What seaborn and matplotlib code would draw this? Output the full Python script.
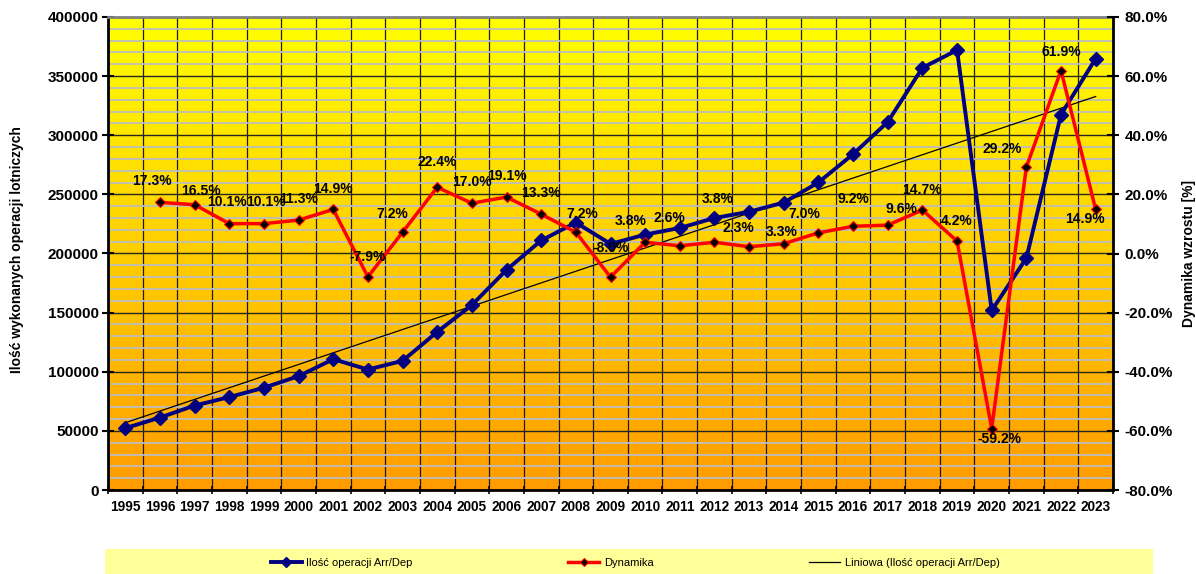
import numpy as np
import pandas as pd
import matplotlib
matplotlib.use("Agg")
import matplotlib.pyplot as plt
import seaborn as sns
from matplotlib.colors import LinearSegmentedColormap
from matplotlib.ticker import MultipleLocator, FuncFormatter
from matplotlib.patches import Rectangle

# ─── Data ─────────────────────────────────────────────────────────────────────
YEARS = [1995, 1996, 1997, 1998, 1999, 2000, 2001, 2002, 2003, 2004,
         2005, 2006, 2007, 2008, 2009, 2010, 2011, 2012, 2013, 2014,
         2015, 2016, 2017, 2018, 2019, 2020, 2021, 2022, 2023]

OPS = [52300, 61300, 71400, 78600, 86500, 96300, 110600, 101900, 109200, 133700,
       156400, 186200, 211000, 226200, 208100, 216000, 221600, 230000, 235300, 243100,
       260100, 284000, 311250, 357000, 372000, 151800, 196100, 317500, 364800]

# growth rate [%], from 1996 onwards
DYN = [17.3, 16.5, 10.1, 10.1, 11.3, 14.9, -7.9, 7.2, 22.4, 17.0,
       19.1, 13.3, 7.2, -8.0, 3.8, 2.6, 3.8, 2.3, 3.3, 7.0,
       9.2, 9.6, 14.7, 4.2, -59.2, 29.2, 61.9, 14.9]

LBL_OPS   = "Ilość operacji Arr/Dep"
LBL_DYN   = "Dynamika"
LBL_TREND = "Liniowa (Ilość operacji Arr/Dep)"

# data-label offsets (pixels) for the Dynamika labels, like Excel placed them
LABEL_OFFSETS = [(-8, 21), (6, 14), (-2, 22), (2, 22), (0, 21), (0, 20), (0, 20), (-10, 18),
                 (0, 25), (0, 21), (0, 21), (0, 21), (6, 18), (0, 29), (-15, 21), (-10, 28),
                 (3, 43), (-11, 19), (-2, 12), (-14, 19), (0, 27), (14, 16), (0, 20), (0, 20),
                 (8, -10), (-24, 18), (0, 19), (-11, -10)]

# ─── Style ────────────────────────────────────────────────────────────────────
plt.rcParams["font.family"] = ["Liberation Sans", "DejaVu Sans"]
plt.rcParams["font.weight"] = "bold"

W, H = 1196, 574
fig = plt.figure(figsize=(W / 100, H / 100), dpi=100)
ax = fig.add_axes([108 / W, 84 / H, 1005 / W, 473 / H])
ax2 = ax.twinx()

# gradient background
bg = LinearSegmentedColormap.from_list("bg", ["#FF9C00", "#FFFF00"])
ax.imshow(np.linspace(0, 1, 256).reshape(-1, 1), cmap=bg, aspect="auto",
          extent=[0, 1, 0, 1], transform=ax.transAxes, origin="lower", zorder=0)

ops_df = pd.DataFrame({"pos": np.arange(len(YEARS)), "ops": OPS})
dyn_df = pd.DataFrame({"pos": np.arange(1, len(YEARS)), "dyn": DYN})

sns.regplot(data=ops_df, x="pos", y="ops", ax=ax, scatter=False, ci=None, truncate=True,
            color="black", line_kws={"lw": 0.9, "zorder": 3})
sns.lineplot(data=ops_df, x="pos", y="ops", ax=ax, color="#000080", lw=2.8,
             marker="D", markersize=7, markeredgecolor="#000080", markeredgewidth=1, zorder=4)
sns.lineplot(data=dyn_df, x="pos", y="dyn", ax=ax2, color="#FF0000", lw=2.5,
             marker="D", markersize=5.5, markerfacecolor="black", markeredgecolor="#FF0000",
             markeredgewidth=0.8, zorder=4)

trend_line, ops_line = ax.lines[0], ax.lines[1]
dyn_line = ax2.lines[0]

for i, (v, (dx, dy)) in enumerate(zip(DYN, LABEL_OFFSETS)):
    ax2.annotate(f"{v:.1f}%", (i + 1, v), xytext=(dx, dy), textcoords="offset pixels",
                 ha="center", va="center", fontsize=10, fontweight="bold", zorder=6)

# ─── Axes ─────────────────────────────────────────────────────────────────────
ax.set_xlim(-0.5, len(YEARS) - 0.5)
ax.set_ylim(0, 400000)
ax2.set_ylim(-80, 80)

ax.set_xticks(np.arange(-0.5, len(YEARS), 1))
ax.set_xticklabels([])
ax.set_xticks(np.arange(len(YEARS)), minor=True)
ax.set_xticklabels([str(y) for y in YEARS], minor=True)
ax.tick_params(axis="x", which="major", direction="inout", length=6, width=1.2)
ax.tick_params(axis="x", which="minor", length=0, pad=7, labelsize=9.8)

ax.yaxis.set_major_locator(MultipleLocator(50000))
ax.yaxis.set_minor_locator(MultipleLocator(10000))
ax.yaxis.set_major_formatter(FuncFormatter(lambda v, _: f"{v:.0f}"))
ax.tick_params(axis="y", which="major", direction="inout", length=9, width=1.5,
               labelsize=11, pad=2)
ax.tick_params(axis="y", which="minor", length=0)

ax2.yaxis.set_major_locator(MultipleLocator(20))
ax2.yaxis.set_major_formatter(FuncFormatter(lambda v, _: f"{v:.1f}%"))
ax2.tick_params(axis="y", which="major", direction="inout", length=9, width=1.5,
                labelsize=11, pad=4)

ax.set_axisbelow(True)
ax.grid(axis="y", which="minor", color="#BDBDBD", lw=1.3)
ax.grid(axis="y", which="major", color="#262626", lw=1)
ax.grid(axis="x", which="major", color="#1a1a1a", lw=0.9)
ax2.grid(False)

for side in ["left", "bottom"]:
    ax.spines[side].set_linewidth(2)
    ax.spines[side].set_color("black")
ax.spines["top"].set_color("#808080")
ax.spines["top"].set_linewidth(2)
ax.spines["right"].set_visible(False)
for side in ["left", "bottom", "top"]:
    ax2.spines[side].set_visible(False)
ax2.spines["right"].set_linewidth(2)
ax2.spines["right"].set_color("black")

ax.set_xlabel("")
ax.set_ylabel("")
ax2.set_ylabel("")

fig.text(17 / W, 1 - 250 / H, "Ilość wykonanych operacji lotniczych", rotation=90,
         ha="center", va="center", fontsize=10, fontweight="bold")
fig.text(1189 / W, 1 - 254 / H, "Dynamika wzrostu [%]", rotation=90,
         ha="center", va="center", fontsize=10, fontweight="bold")

# ─── Legend ───────────────────────────────────────────────────────────────────
fig.patches.append(Rectangle((105 / W, 0), 1048 / W, 25 / H, transform=fig.transFigure,
                             facecolor="#FFFF99", edgecolor="none", zorder=0))
fig.legend([ops_line, dyn_line, trend_line], [LBL_OPS, LBL_DYN, LBL_TREND],
           loc="center", bbox_to_anchor=(635 / W, 1 - 563 / H), ncol=3, frameon=False,
           prop={"size": 8, "weight": "normal"}, columnspacing=14,
           handlelength=2.8, handletextpad=0.4, markerscale=0.75)

fig.savefig("out.png", dpi=100)
plt.close(fig)
